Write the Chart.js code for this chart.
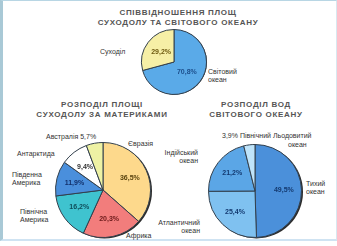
<!DOCTYPE html>
<html>
<head>
<meta charset="utf-8">
<script src="https://cdn.jsdelivr.net/npm/chart.js@4"></script>
<style>
  body { margin: 0; width: 337px; height: 246px; background: #fff; position: relative; overflow: hidden;
         font-family: 'Liberation Sans', Arial, sans-serif; }
  .frame { position: absolute; left: 0; top: 0; width: 333px; height: 238px; border-left: 3px solid #a9c9d6;
           border-top: 1px solid #b8d6e4; border-right: 1px solid #d8e8f0; border-bottom: 2px solid #cfe3f2; }
  .t { position: absolute; font-weight: bold; font-size: 8px; color: #555; text-align: center; line-height: 10px;
       letter-spacing: 0.7px; }
  .l { position: absolute; font-size: 7px; color: #333; line-height: 8px; white-space: nowrap; }
  .r { text-align: right; }
  canvas { position: absolute; }
</style>
</head>
<body>
<div class="frame"></div>

<div class="t" style="left:80px;top:8px;width:196px">СПІВВІДНОШЕННЯ ПЛОЩ<br>СУХОДОЛУ ТА СВІТОВОГО ОКЕАНУ</div>
<div class="t" style="left:14px;top:100px;width:176px">РОЗПОДІЛ ПЛОЩІ<br>СУХОДОЛУ ЗА МАТЕРИКАМИ</div>
<div class="t" style="left:190px;top:100px;width:132px">РОЗПОДІЛ ВОД<br>СВІТОВОГО ОКЕАНУ</div>

<!-- outer labels, chart 1 -->
<div class="l" style="left:100px;top:48px">Суходіл</div>
<div class="l" style="left:208px;top:68px">Світовий<br>океан</div>

<!-- outer labels, chart 2 -->
<div class="l" style="left:46px;top:133px">Австралія 5,7%</div>
<div class="l" style="left:128px;top:140px">Євразія</div>
<div class="l" style="left:17px;top:150px">Антарктида</div>
<div class="l" style="left:12px;top:171px">Південна<br>Америка</div>
<div class="l" style="left:20px;top:208px">Північна<br>Америка</div>
<div class="l" style="left:126px;top:232px">Африка</div>

<!-- outer labels, chart 3 -->
<div class="l" style="left:222px;top:132px">3,9% Північний Льодовитий</div>
<div class="l" style="left:288px;top:141px">океан</div>
<div class="l r" style="left:160px;top:149px;width:38px">Індійський<br>океан</div>
<div class="l" style="left:306px;top:180px">Тихий<br>океан</div>
<div class="l r" style="left:150px;top:219px;width:50px">Атлантичний<br>океан</div>

<canvas id="land-chart" width="70" height="70" style="left:139px;top:27px"></canvas>
<canvas id="continent-chart" width="100" height="100" style="left:53px;top:140px"></canvas>
<canvas id="ocean-chart" width="98" height="98" style="left:206px;top:142px"></canvas>

<script>
// Land vs ocean
const landLabels = ['Світовий океан', 'Суходіл'];
const landValues = [70.8, 29.2];

// Land area by continent
const contLabels = ['Євразія', 'Африка', 'Північна Америка', 'Південна Америка', 'Антарктида', 'Австралія'];
const contValues = [36.5, 20.3, 16.2, 11.9, 9.4, 5.7];

// World ocean by ocean
const oceanLabels = ['Тихий океан', 'Атлантичний океан', 'Індійський океан', 'Північний Льодовитий океан'];
const oceanValues = [49.5, 25.4, 21.2, 3.9];

const fmt = v => v.toFixed(1).replace('.', ',') + '%';

// percent text inside the slices + a dark rim on the lower right
const sliceLabels = {
  id: 'sliceLabels',
  beforeDatasetsDraw(chart, args, opts) {
    const arc = chart.getDatasetMeta(0).data[0];
    if (!arc) return;
    const ctx = chart.ctx;
    ctx.save();
    ctx.fillStyle = '#2b2b2b';
    ctx.beginPath();
    ctx.arc(arc.x + opts.rim, arc.y + opts.rim * 0.6, arc.outerRadius, 0, Math.PI * 2);
    ctx.fill();
    ctx.restore();
  },
  afterDatasetsDraw(chart, args, opts) {
    const ctx = chart.ctx;
    const values = chart.data.datasets[0].data;
    ctx.save();
    ctx.font = opts.font;
    ctx.textAlign = 'center';
    ctx.textBaseline = 'middle';
    chart.getDatasetMeta(0).data.forEach((arc, i) => {
      if (values[i] < opts.min) return;
      const mid = (arc.startAngle + arc.endAngle) / 2;
      const r = arc.outerRadius * opts.k;
      ctx.fillStyle = opts.colors[i];
      ctx.fillText(fmt(values[i]), arc.x + Math.cos(mid) * r, arc.y + Math.sin(mid) * r);
    });
    ctx.restore();
  }
};

function pieChart(id, labels, values, colors, labelOpts) {
  return new Chart(document.getElementById(id), {
    type: 'pie',
    data: {
      labels: labels,
      datasets: [{
        data: values,
        backgroundColor: colors,
        borderColor: '#33404d',
        borderWidth: 1
      }]
    },
    options: {
      responsive: false,
      animation: false,
      layout: { padding: 2 },
      plugins: {
        legend: { display: false },
        tooltip: { enabled: false },
        sliceLabels: labelOpts
      }
    },
    plugins: [sliceLabels]
  });
}

pieChart('land-chart', landLabels, landValues, ['#5aaae8', '#f6efa6'],
  { font: 'bold 7px Liberation Sans, Arial', k: 0.5, min: 0, rim: 0.5, colors: ['#1d4f8c', '#6e5a10'] });

pieChart('continent-chart', contLabels, contValues,
  ['#fdd98c', '#f27d7c', '#3fc3cf', '#4a8fdc', '#ffffff', '#eef2a4'],
  { font: 'bold 7px Liberation Sans, Arial', k: 0.62, min: 6, rim: 1.5,
    colors: ['#5a4410', '#6b1a1a', '#0f4d5a', '#12306b', '#333333', '#333333'] });

pieChart('ocean-chart', oceanLabels, oceanValues, ['#4b90da', '#7fc1f0', '#5ba6e6', '#bfe4fa'],
  { font: 'bold 7px Liberation Sans, Arial', k: 0.62, min: 6, rim: 1.5,
    colors: ['#143a70', '#143a70', '#143a70', '#143a70'] });
</script>
</body>
</html>
